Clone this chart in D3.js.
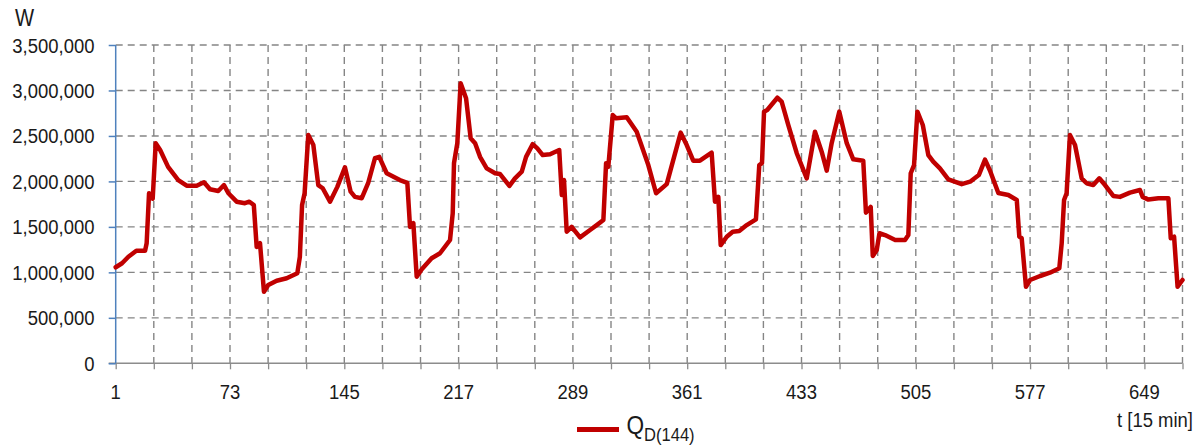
<!DOCTYPE html>
<html><head><meta charset="utf-8">
<script src="https://cdn.jsdelivr.net/npm/d3@7"></script>
<style>
html,body{margin:0;padding:0;background:#fff;}
svg text{font-family:"Liberation Sans",Arial,sans-serif;fill:#1a1a1a;}
</style></head>
<body><svg id="c" width="1200" height="446"></svg>
<script>
// ---- data ----
const tIndex = [1,5,9,14,19.5,20.5,22,24.3,26.2,29,34,40.4,45.7,52,56.6,60.4,65.6,69.2,72,77.2,82.4,85.2,88,89.8,91.9,94.4,97.1,102.4,108.7,115.4,117,118.4,120,122.3,125.5,128.6,131.4,136,140.6,145.4,149,151.7,156,160,164.3,167,171.7,180,184.7,186.4,188.5,190.6,193.8,200,205.3,211.6,213.3,214.1,216.2,218.3,221.7,224.6,227.4,230.5,234.7,240,243,249,252.5,256.8,259.5,263.7,266.6,270,274.6,280.4,282,283.4,285.1,288.2,293.5,299.8,304,308.2,309.9,311.3,314.1,316.2,322.9,329.2,336.5,341.4,348.1,356.9,360.7,364.8,369,376.4,378.5,380.6,382.1,385.9,389.7,393.8,398.5,404.3,406.4,408.1,409.4,411.4,417.8,420.5,424.7,430,436.3,441.5,445.7,448.9,452,456.8,461.5,465.6,471.9,473.6,476.6,477.9,480.4,482.1,485.6,492,498.2,500.3,501.8,503.9,506,509.4,512.9,516,520.2,525.5,533.9,539.2,544.7,548.6,551.7,557,563.3,568.6,570.2,571.7,574.4,577,583.3,589.5,595.4,596.9,598.4,600,602.1,605.3,609.5,612.6,616.8,620.6,624.2,629.4,633.6,639.9,646.2,647.9,651.5,657.8,664.1,665.6,667.7,669.9,673];
const qD144 = [1056,1100,1172,1238,1238,1320,1870,1810,2420,2345,2160,2015,1953,1953,1990,1913,1895,1960,1870,1777,1760,1777,1740,1280,1320,787,860,908,935,990,1170,1740,1870,2510,2400,1960,1925,1777,1940,2155,1887,1830,1815,1980,2255,2270,2090,2015,1985,1500,1540,952,1034,1155,1210,1356,1650,2200,2420,3080,2914,2474,2420,2270,2144,2090,2082,1950,2034,2107,2270,2410,2364,2290,2298,2345,1850,2015,1447,1500,1385,1466,1520,1576,2200,2160,2730,2694,2705,2547,2180,1870,1970,2536,2400,2228,2228,2316,1777,1830,1300,1392,1447,1455,1520,1583,2180,2200,2767,2785,2920,2877,2620,2310,2034,2547,2327,2118,2420,2767,2420,2243,2228,1656,1720,1180,1246,1430,1410,1356,1356,1410,2090,2180,2767,2620,2290,2217,2144,2023,1970,1997,2070,2240,2120,1873,1850,1796,1392,1375,842,916,960,996,1045,1320,1796,1870,2510,2400,2034,1980,1960,2034,1960,1840,1830,1876,1906,1830,1800,1815,1815,1375,1392,842,916].map(v => v*1000);
const xTickLabels = [1,73,145,217,289,361,433,505,577,649];
const xGrid = d3.range(1, 674, 24);
const yTicks = [0,500000,1000000,1500000,2000000,2500000,3000000,3500000];
const seriesName = "Q";
const seriesSub = "D(144)";
const yUnit = "W";
const xUnit = "t [15 min]";

// ---- layout ----
const L = 115.7, R = 1182.5, T = 45, B = 363.3;
const svg = d3.select("#c");
const x = d3.scaleLinear().domain([1, 673]).range([L, R]);
const y = d3.scaleLinear().domain([0, 3500000]).range([B, T]);
const fmt = d3.format(",");
const SX = 0.88;

// grid
const g = svg.append("g");
g.selectAll("line.h").data(yTicks.filter(d => d > 0)).join("line")
  .attr("x1", L).attr("x2", R).attr("y1", d => y(d)).attr("y2", d => y(d))
  .attr("stroke", "#858585").attr("stroke-width", 1.4).attr("stroke-dasharray", "7,5");
g.selectAll("line.v").data(xGrid.filter(d => d > 1)).join("line")
  .attr("x1", d => x(d)).attr("x2", d => x(d)).attr("y1", T).attr("y2", B)
  .attr("stroke", "#858585").attr("stroke-width", 1.4).attr("stroke-dasharray", "7,5");

// x axis
const xAxis = svg.append("g").attr("transform", `translate(0,${B})`)
  .call(d3.axisBottom(x).tickValues(xGrid).tickSize(6).tickFormat(""));
xAxis.select(".domain").attr("stroke", "#8c8c8c").attr("stroke-width", 1.5)
  .attr("d", `M${L-7},0H${R}`);
xAxis.selectAll(".tick line").attr("stroke", "#8c8c8c").attr("stroke-width", 1.3);

svg.append("g").selectAll("text").data(xTickLabels).join("text")
  .attr("transform", d => `translate(${x(d)},399) scale(${SX},1)`)
  .attr("text-anchor", "middle").attr("font-size", 21).text(d => d);

// y axis
const yAxis = svg.append("g").attr("transform", `translate(${L},0)`)
  .call(d3.axisLeft(y).tickValues(yTicks).tickSize(7).tickFormat(""));
yAxis.select(".domain").attr("stroke", "#4f81bd").attr("stroke-width", 1.5)
  .attr("d", `M0,${T}V${B}`);
yAxis.selectAll(".tick line").attr("stroke", "#4f81bd").attr("stroke-width", 1.5);

svg.append("g").selectAll("text").data(yTicks).join("text")
  .attr("transform", d => `translate(94.5,${y(d) + 7.5}) scale(${SX},1)`)
  .attr("text-anchor", "end").attr("font-size", 21).text(d => fmt(d));

// unit labels
svg.append("text").attr("transform", `translate(15,26) scale(${SX},1)`)
  .attr("font-size", 23).text(yUnit);
svg.append("text").attr("transform", `translate(1193,427) scale(${SX},1)`)
  .attr("text-anchor", "end").attr("font-size", 21).text(xUnit);

// line
const pts = tIndex.map((t, i) => [t, qD144[i]]);
svg.append("path").datum(pts)
  .attr("fill", "none").attr("stroke", "#c00000").attr("stroke-width", 4.5)
  .attr("stroke-linejoin", "round").attr("stroke-linecap", "round")
  .attr("d", d3.line().x(d => x(d[0])).y(d => y(d[1])));

// legend
svg.append("line").attr("x1", 577).attr("x2", 619).attr("y1", 429.5).attr("y2", 429.5)
  .attr("stroke", "#c00000").attr("stroke-width", 5);
const lt = svg.append("text").attr("transform", `translate(626.5,434) scale(0.87,1)`);
lt.append("tspan").attr("font-size", 26).text(seriesName);
lt.append("tspan").attr("font-size", 19).attr("dy", 6.5).text(seriesSub);
</script></body></html>
